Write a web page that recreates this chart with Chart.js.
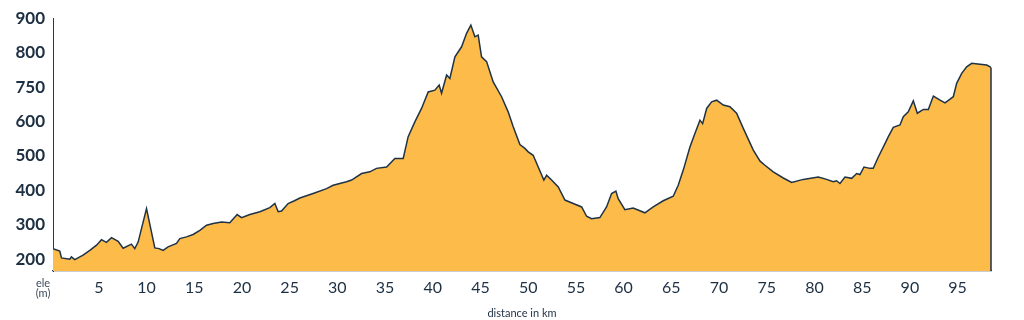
<!DOCTYPE html>
<html>
<head>
<meta charset="utf-8">
<script src="https://cdn.jsdelivr.net/npm/chart.js@4/dist/chart.umd.min.js"></script>
<style>
  html, body { margin: 0; padding: 0; background: #fff; }
  #wrap { position: relative; width: 1024px; height: 320px; }
  #unit { position: absolute; left: 28px; top: 278px; width: 30px; text-align: center;
          font: 11px Lato, "Open Sans", sans-serif; line-height: 10px; color: #3c4b5a; }
</style>
</head>
<body>
<div id="wrap">
  <canvas id="chart" width="1024" height="320"></canvas>
  <div id="unit">ele<br>(m)</div>
</div>
<script>
'use strict';
// profile: distance (km) and elevation (m)
const kmPoints = [
  0.2, 0.91, 1.09, 1.96, 2.13, 2.48, 3.35, 4.06, 4.76, 5.28, 5.8, 6.33, 7.03, 7.55, 8.42, 8.77, 9.12, 10.0,
  10.87, 11.32, 11.74, 12.26, 13.14, 13.49, 14.19, 14.88, 15.59, 16.29, 16.98, 17.86, 18.73, 19.5, 19.96,
  20.83, 21.88, 22.92, 23.45, 23.8, 24.15, 24.84, 25.5, 26.07, 27.46, 28.87, 29.56, 30.96, 31.49, 32.54,
  33.4, 34.1, 35.16, 36.03, 36.9, 37.42, 38.12, 38.82, 39.52, 40.22, 40.67, 40.92, 41.45, 41.79, 42.32,
  43.02, 43.54, 43.99, 44.41, 44.76, 45.11, 45.64, 46.33, 47.21, 47.9, 48.43, 49.13, 49.65, 50.0, 50.52,
  51.05, 51.64, 51.93, 52.45, 53.15, 53.85, 54.72, 55.6, 56.12, 56.64, 57.51, 58.21, 58.74, 59.19, 59.43,
  60.13, 61.0, 62.23, 63.1, 64.15, 65.2, 65.72, 66.25, 66.95, 67.47, 68.0, 68.28, 68.7, 69.22, 69.75,
  70.44, 71.14, 71.84, 72.54, 73.59, 74.3, 74.81, 75.68, 76.73, 77.61, 78.82, 80.4, 81.27, 81.97, 82.32,
  82.67, 83.2, 83.9, 84.42, 84.77, 85.19, 85.82, 86.16, 86.69, 87.39, 87.74, 88.26, 88.96, 89.31, 89.83,
  90.36, 90.78, 91.41, 91.93, 92.46, 93.16, 93.68, 94.21, 94.55, 94.9, 95.43, 95.95, 96.48, 97.35, 98.05, 98.5
];
const elePoints = [
  231, 224, 204, 200, 207, 199, 212, 226, 241, 257, 249, 263, 252, 232, 244, 231, 250, 347,
  233, 231, 226, 236, 246, 260, 265, 272, 284, 299, 304, 308, 306, 330, 321,
  330, 338, 350, 362, 338, 340, 362, 370, 378, 391, 405, 415, 425, 430, 449,
  454, 464, 468, 493, 493, 556, 599, 638, 686, 691, 706, 682, 735, 725, 788,
  817, 856, 880, 846, 851, 788, 774, 715, 672, 628, 585, 533, 522, 512, 502,
  468, 430, 444, 430, 410, 372, 362, 352, 325, 318, 321, 352, 391, 398, 376,
  344, 349, 335, 352, 370, 383, 415, 459, 526, 565, 604, 594, 638, 657, 662,
  648, 643, 624, 580, 517, 485, 473, 454, 436, 423, 432, 439, 432, 425, 428,
  420, 439, 435, 449, 446, 468, 464, 464, 497, 536, 556, 583, 590, 614, 628,
  660, 624, 635, 635, 674, 662, 654, 665, 672, 711, 740, 759, 769, 766, 764, 757
];
const xTickValues = [5, 10, 15, 20, 25, 30, 35, 40, 45, 50, 55, 60, 65, 70, 75, 80, 85, 90, 95];
const yTickValues = [200, 300, 400, 500, 600, 700, 800, 900];
const yTickLabels = ['200', '300', '400', '500', '600', '750', '800', '900'];

const INK = '#1d2f42';
const FONT = 'Lato, "Open Sans", sans-serif';
const yMin = 166, yMax = 900;

// closes the profile on the right: last point straight down to the baseline
const edgePlugin = {
  id: 'edge',
  afterDatasetsDraw(chart) {
    const pts = chart.getDatasetMeta(0).data;
    const last = pts[pts.length - 1];
    if (!last) return;
    const ctx = chart.ctx;
    ctx.save();
    ctx.strokeStyle = '#2b3a4a';
    ctx.lineWidth = 1.6;
    ctx.beginPath();
    ctx.moveTo(last.x, last.y);
    ctx.lineTo(last.x, chart.chartArea.bottom);
    ctx.stroke();
    ctx.restore();
  }
};

new Chart(document.getElementById('chart'), {
  type: 'line',
  data: {
    datasets: [{
      data: kmPoints.map((k, i) => ({ x: k, y: elePoints[i] })),
      borderColor: '#1f3347',
      borderWidth: 1.5,
      backgroundColor: '#fdbb4a',
      fill: 'start',
      pointRadius: 0,
      tension: 0
    }]
  },
  options: {
    responsive: false,
    animation: false,
    devicePixelRatio: 1,
    layout: { padding: { top: 18, right: 33, left: 0, bottom: 0 } },
    plugins: { legend: { display: false }, tooltip: { enabled: false } },
    scales: {
      x: {
        type: 'linear', min: kmPoints[0], max: kmPoints[kmPoints.length - 1],
        afterBuildTicks: s => { s.ticks = xTickValues.map(v => ({ value: v })); },
        afterFit: s => { s.height = 49; },
        grid: { display: false, drawTicks: false },
        border: { display: true, color: '#2b3a4a', width: 1.2 },
        ticks: { color: INK, font: { family: FONT, size: 16 }, padding: 7, maxRotation: 0, autoSkip: false },
        title: { display: true, text: 'distance in km', color: INK, font: { family: FONT, size: 11 }, padding: { top: 15, bottom: 0 } }
      },
      y: {
        type: 'linear', min: yMin, max: yMax,
        afterBuildTicks: s => { s.ticks = yTickValues.map(v => ({ value: v })); },
        afterFit: s => { s.width = 53; },
        grid: { display: false, drawTicks: false },
        border: { display: true, color: '#2b3a4a', width: 1 },
        ticks: {
          color: INK, font: { family: FONT, size: 17, weight: 'bold' }, padding: 8,
          callback: v => yTickLabels[yTickValues.indexOf(v)]
        }
      }
    }
  },
  plugins: [edgePlugin]
});
</script>
</body>
</html>
